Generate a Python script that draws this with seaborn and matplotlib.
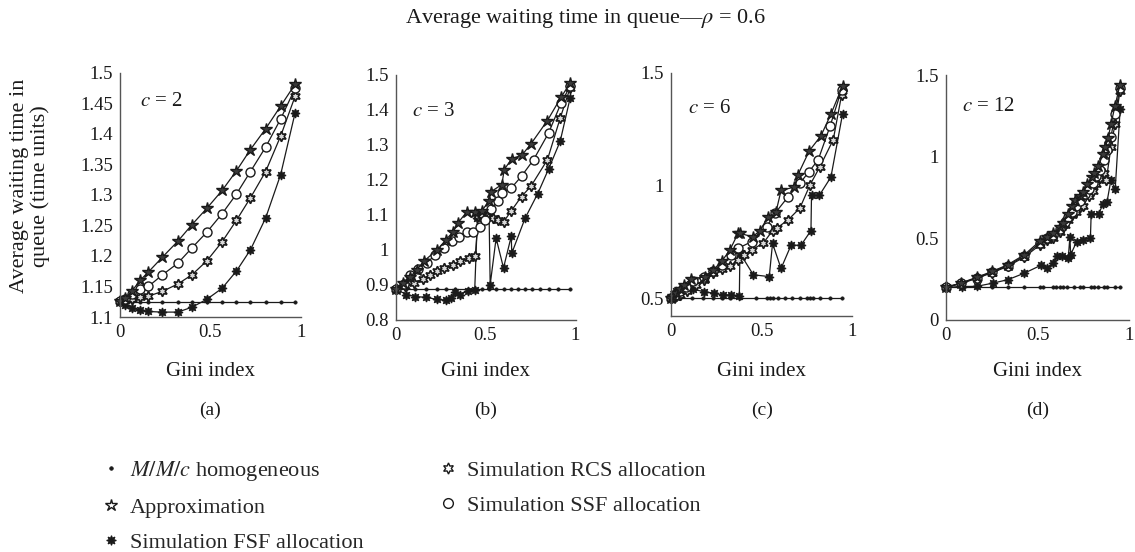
import matplotlib
matplotlib.use("Agg")
import matplotlib.pyplot as plt
from matplotlib.lines import Line2D
import seaborn as sns

# ---------------- data ----------------
# (a) c = 2
ga = [0, 0.028, 0.065, 0.111, 0.157, 0.235, 0.32, 0.398, 0.481, 0.565, 0.644, 0.722, 0.806, 0.889, 0.969]
homog_a = [1.125, 1.125, 1.125, 1.125, 1.125, 1.125, 1.125, 1.125, 1.125, 1.125, 1.125, 1.125, 1.125, 1.125, 1.125]
approx_a = [1.1256, 1.131, 1.142, 1.160, 1.1736, 1.198, 1.224, 1.251, 1.278, 1.307, 1.339, 1.374, 1.408, 1.445, 1.481]
ssf_a = [1.1256, 1.129, 1.137, 1.145, 1.150, 1.169, 1.188, 1.213, 1.239, 1.269, 1.301, 1.338, 1.378, 1.424, 1.474]
rcs_a = [1.1256, 1.127, 1.129, 1.132, 1.134, 1.142, 1.154, 1.169, 1.192, 1.223, 1.258, 1.295, 1.338, 1.396, 1.461]
fsf_a = [1.1256, 1.119, 1.115, 1.111, 1.109, 1.108, 1.108, 1.116, 1.129, 1.147, 1.175, 1.210, 1.262, 1.333, 1.434]

# (b) c = 3
homog_b_g = [0, 0.06, 0.11, 0.17, 0.23, 0.28, 0.33, 0.40, 0.44, 0.48, 0.52, 0.56, 0.60, 0.64, 0.68, 0.72, 0.76, 0.80, 0.85, 0.90, 0.97]
homog_b = [0.888, 0.888, 0.888, 0.888, 0.888, 0.888, 0.888, 0.888, 0.888, 0.888, 0.888, 0.888, 0.888, 0.888, 0.888, 0.888, 0.888, 0.888, 0.888, 0.888, 0.888]
approx_b_g = [0, 0.04, 0.081, 0.119, 0.161, 0.233, 0.281, 0.322, 0.346, 0.396, 0.443, 0.480, 0.517, 0.528, 0.591, 0.604, 0.646, 0.702, 0.752, 0.844, 0.919, 0.970]
approx_b = [0.888, 0.905, 0.922, 0.943, 0.969, 1.000, 1.029, 1.052, 1.076, 1.108, 1.108, 1.111, 1.138, 1.165, 1.186, 1.229, 1.260, 1.270, 1.302, 1.369, 1.435, 1.476]
ssf_b_g = [0, 0.045, 0.081, 0.125, 0.174, 0.22, 0.27, 0.313, 0.35, 0.396, 0.433, 0.47, 0.498, 0.53, 0.57, 0.59, 0.643, 0.70, 0.767, 0.85, 0.92, 0.97]
ssf_b = [0.888, 0.903, 0.927, 0.945, 0.962, 0.985, 1.005, 1.024, 1.035, 1.052, 1.052, 1.065, 1.086, 1.115, 1.14, 1.162, 1.176, 1.21, 1.257, 1.333, 1.419, 1.467]
rcs_b_g = [0, 0.055, 0.10, 0.15, 0.19, 0.23, 0.27, 0.322, 0.359, 0.406, 0.443, 0.46, 0.48, 0.51, 0.54, 0.57, 0.60, 0.643, 0.70, 0.752, 0.844, 0.915, 0.97]
rcs_b = [0.888, 0.895, 0.905, 0.915, 0.928, 0.938, 0.948, 0.957, 0.969, 0.976, 0.981, 1.095, 1.10, 1.095, 1.09, 1.085, 1.079, 1.111, 1.152, 1.181, 1.257, 1.376, 1.462]
fsf_b_g = [0, 0.06, 0.11, 0.17, 0.23, 0.28, 0.31, 0.33, 0.36, 0.40, 0.44, 0.455, 0.48, 0.52, 0.526, 0.559, 0.60, 0.643, 0.646, 0.72, 0.79, 0.85, 0.915, 0.97]
fsf_b = [0.888, 0.872, 0.866, 0.864, 0.858, 0.856, 0.862, 0.878, 0.872, 0.882, 0.884, 1.09, 1.10, 1.095, 0.90, 1.033, 0.948, 1.038, 0.99, 1.09, 1.16, 1.23, 1.31, 1.433]

# (c) c = 6
homog_c_g = [0, 0.05, 0.114, 0.178, 0.233, 0.279, 0.325, 0.38, 0.47, 0.528, 0.546, 0.564, 0.592, 0.629, 0.665, 0.711, 0.748, 0.767, 0.785, 0.822, 0.877, 0.941]
homog_c = [0.5, 0.5, 0.5, 0.5, 0.5, 0.5, 0.5, 0.5, 0.5, 0.5, 0.5, 0.5, 0.5, 0.5, 0.5, 0.5, 0.5, 0.5, 0.5, 0.5, 0.5, 0.5]
approx_c_g = [0, 0.01, 0.03, 0.05, 0.07, 0.11, 0.188, 0.233, 0.279, 0.325, 0.371, 0.381, 0.45, 0.49, 0.537, 0.579, 0.607, 0.68, 0.70, 0.763, 0.827, 0.882, 0.946]
approx_c = [0.5, 0.51, 0.525, 0.54, 0.56, 0.585, 0.596, 0.626, 0.663, 0.714, 0.79, 0.788, 0.772, 0.80, 0.862, 0.882, 0.978, 0.993, 1.047, 1.154, 1.22, 1.316, 1.441]
ssf_c_g = [0, 0.02, 0.05, 0.08, 0.12, 0.18, 0.23, 0.279, 0.33, 0.371, 0.445, 0.528, 0.574, 0.647, 0.711, 0.76, 0.812, 0.877, 0.941]
ssf_c = [0.5, 0.515, 0.53, 0.55, 0.575, 0.595, 0.62, 0.648, 0.69, 0.722, 0.751, 0.818, 0.877, 0.951, 1.01, 1.06, 1.114, 1.262, 1.425]
rcs_c_g = [0, 0.02, 0.05, 0.09, 0.14, 0.18, 0.233, 0.28, 0.325, 0.371, 0.40, 0.445, 0.509, 0.56, 0.583, 0.647, 0.711, 0.767, 0.822, 0.895, 0.941]
rcs_c = [0.5, 0.505, 0.515, 0.53, 0.56, 0.58, 0.611, 0.63, 0.641, 0.670, 0.69, 0.715, 0.744, 0.80, 0.811, 0.848, 0.90, 1.003, 1.084, 1.203, 1.402]
fsf_c_g = [0, 0.03, 0.07, 0.12, 0.184, 0.239, 0.285, 0.33, 0.377, 0.38, 0.454, 0.542, 0.56, 0.607, 0.662, 0.717, 0.772, 0.775, 0.818, 0.882, 0.946]
fsf_c = [0.5, 0.53, 0.545, 0.54, 0.529, 0.522, 0.515, 0.515, 0.51, 0.70, 0.604, 0.596, 0.743, 0.632, 0.735, 0.735, 0.80, 0.956, 0.956, 1.037, 1.316]

# (d) c = 12
homog_d_g = [0, 0.082, 0.167, 0.253, 0.336, 0.427, 0.513, 0.53, 0.585, 0.60, 0.62, 0.64, 0.66, 0.70, 0.73, 0.75, 0.79, 0.81, 0.83, 0.86, 0.88, 0.92, 0.95]
homog_d = [0.2, 0.2, 0.2, 0.2, 0.2, 0.2, 0.2, 0.2, 0.2, 0.2, 0.2, 0.2, 0.2, 0.2, 0.2, 0.2, 0.2, 0.2, 0.2, 0.2, 0.2, 0.2, 0.2]
approx_d_g = [0, 0.082, 0.167, 0.253, 0.336, 0.427, 0.513, 0.55, 0.585, 0.62, 0.64, 0.667, 0.69, 0.704, 0.73, 0.749, 0.77, 0.795, 0.81, 0.831, 0.858, 0.87, 0.885, 0.90, 0.922, 0.949]
approx_d = [0.2, 0.227, 0.261, 0.298, 0.338, 0.399, 0.484, 0.51, 0.53, 0.57, 0.591, 0.652, 0.70, 0.733, 0.76, 0.783, 0.83, 0.874, 0.90, 0.945, 1.016, 1.06, 1.117, 1.20, 1.31, 1.441]
ssf_d_g = [0, 0.082, 0.167, 0.253, 0.336, 0.427, 0.513, 0.55, 0.585, 0.62, 0.65, 0.667, 0.69, 0.71, 0.73, 0.76, 0.78, 0.80, 0.82, 0.84, 0.86, 0.88, 0.90, 0.922, 0.949]
ssf_d = [0.2, 0.225, 0.258, 0.294, 0.333, 0.392, 0.472, 0.50, 0.52, 0.555, 0.60, 0.63, 0.66, 0.70, 0.73, 0.77, 0.80, 0.84, 0.88, 0.92, 0.98, 1.04, 1.12, 1.26, 1.42]
rcs_d_g = [0, 0.082, 0.167, 0.253, 0.336, 0.427, 0.513, 0.55, 0.585, 0.62, 0.65, 0.667, 0.69, 0.71, 0.73, 0.75, 0.78, 0.80, 0.82, 0.84, 0.86, 0.875, 0.90, 0.922, 0.949]
rcs_d = [0.2, 0.223, 0.255, 0.29, 0.328, 0.385, 0.46, 0.49, 0.505, 0.54, 0.58, 0.61, 0.64, 0.66, 0.69, 0.70, 0.76, 0.79, 0.83, 0.87, 0.90, 0.86, 1.06, 1.20, 1.40]
fsf_d_g = [0, 0.086, 0.167, 0.257, 0.338, 0.428, 0.518, 0.549, 0.585, 0.608, 0.631, 0.667, 0.676, 0.68, 0.713, 0.749, 0.788, 0.792, 0.833, 0.858, 0.878, 0.90, 0.923, 0.95]
fsf_d = [0.2, 0.205, 0.206, 0.226, 0.247, 0.287, 0.335, 0.318, 0.348, 0.39, 0.389, 0.379, 0.51, 0.40, 0.48, 0.49, 0.505, 0.652, 0.65, 0.713, 0.72, 0.86, 0.80, 1.29]

panel_names = ["(a)", "(b)", "(c)", "(d)"]
server_counts = ["2", "3", "6", "12"]
legend_labels = ["$M/M/c$ homogeneous", "Approximation", "Simulation FSF allocation",
                 "Simulation RCS allocation", "Simulation SSF allocation"]
x_ticks = [0, 0.5, 1]
y_ticks_a = [1.1, 1.15, 1.2, 1.25, 1.3, 1.35, 1.4, 1.45, 1.5]
y_ticks_b = [0.8, 0.9, 1.0, 1.1, 1.2, 1.3, 1.4, 1.5]
y_ticks_c = [0.5, 1.0, 1.5]
y_ticks_d = [0, 0.5, 1.0, 1.5]

# ---------------- style ----------------
sns.set_theme(style="white")
plt.rcParams["font.family"] = ["Liberation Serif", "DejaVu Serif"]
plt.rcParams["mathtext.fontset"] = "stix"

INK = "#1a1a1a"
# markers drawn on the curves
curve_markers = {
    "homog": dict(marker="o", markersize=2.4, markerfacecolor=INK, markeredgecolor=INK, markeredgewidth=0.5),
    "approx": dict(marker="*", markersize=9, markerfacecolor="#3a3a3a", markeredgecolor=INK, markeredgewidth=1.0),
    "fsf": dict(marker=(8, 1, 0), markersize=6.5, markerfacecolor=INK, markeredgecolor=INK, markeredgewidth=0.9),
    "rcs": dict(marker=(6, 1, 0), markersize=7.5, markerfacecolor="#d8d8d8", markeredgecolor=INK, markeredgewidth=1.2),
    "ssf": dict(marker="o", markersize=6.5, markerfacecolor="white", markeredgecolor=INK, markeredgewidth=1.0),
}
# lighter, open symbols for the key
key_markers = {
    "homog": dict(marker="o", markersize=2.6, markerfacecolor=INK, markeredgecolor=INK, markeredgewidth=0.5),
    "approx": dict(marker="*", markersize=9, markerfacecolor="white", markeredgecolor=INK, markeredgewidth=1.0),
    "fsf": dict(marker=(8, 1, 0), markersize=7, markerfacecolor=INK, markeredgecolor=INK, markeredgewidth=0.8),
    "rcs": dict(marker=(6, 1, 0), markersize=8, markerfacecolor="white", markeredgecolor=INK, markeredgewidth=1.0),
    "ssf": dict(marker="o", markersize=7, markerfacecolor="white", markeredgecolor=INK, markeredgewidth=1.0),
}

fig = plt.figure(figsize=(11.35, 5.52), dpi=100)
W, H = 1135.0, 552.0

def axes_at(left, right, top, bottom):
    return fig.add_axes([left / W, 1 - bottom / H, (right - left) / W, (bottom - top) / H])

panels = [
    dict(box=(120, 300.7, 72.5, 317), ylim=(1.1, 1.5), yticks=y_ticks_a,
         series=[("homog", ga, homog_a), ("fsf", ga, fsf_a), ("rcs", ga, rcs_a),
                 ("ssf", ga, ssf_a), ("approx", ga, approx_a)], ctext=(0.11, 0.88)),
    dict(box=(395.5, 575.5, 74.7, 319.7), ylim=(0.8, 1.5), yticks=y_ticks_b,
         series=[("homog", homog_b_g, homog_b), ("fsf", fsf_b_g, fsf_b), ("rcs", rcs_b_g, rcs_b),
                 ("ssf", ssf_b_g, ssf_b), ("approx", approx_b_g, approx_b)], ctext=(0.09, 0.85)),
    dict(box=(671, 852.3, 72.7, 316.3), ylim=(0.42, 1.5), yticks=y_ticks_c,
         series=[("homog", homog_c_g, homog_c), ("fsf", fsf_c_g, fsf_c), ("rcs", rcs_c_g, rcs_c),
                 ("ssf", ssf_c_g, ssf_c), ("approx", approx_c_g, approx_c)], ctext=(0.095, 0.855)),
    dict(box=(946, 1129.3, 75, 320), ylim=(0, 1.5), yticks=y_ticks_d,
         series=[("homog", homog_d_g, homog_d), ("fsf", fsf_d_g, fsf_d), ("rcs", rcs_d_g, rcs_d),
                 ("ssf", ssf_d_g, ssf_d), ("approx", approx_d_g, approx_d)], ctext=(0.09, 0.87)),
]

def fmt(v):
    return f"{v:g}"

for p, name, c in zip(panels, panel_names, server_counts):
    ax = axes_at(*p["box"])
    left, right, top, bottom = p["box"]
    hgt = bottom - top
    for key, xs, ys in p["series"]:
        sns.lineplot(x=xs, y=ys, ax=ax, sort=False, estimator=None, color=INK,
                     linewidth=0.9, clip_on=False, legend=False, **curve_markers[key])
    ax.set_xlim(0, 1)
    ax.set_ylim(*p["ylim"])
    ax.set_xticks(x_ticks, [fmt(v) for v in x_ticks])
    ax.set_yticks(p["yticks"], [fmt(v) for v in p["yticks"]])
    for side in ("top", "right"):
        ax.spines[side].set_visible(False)
    for side in ("left", "bottom"):
        ax.spines[side].set_color("#555555")
        ax.spines[side].set_linewidth(1.0)
    ax.tick_params(direction="in", length=3, width=0.8, color="#555555",
                   labelsize=13.5, labelcolor=INK, pad=5)
    ax.set_xlabel("Gini index", fontsize=15, color=INK)
    ax.xaxis.set_label_coords(0.5, -(371 - bottom) / hgt)
    ax.xaxis.label.set_verticalalignment("center")
    ax.set_ylabel("")
    ax.text(p["ctext"][0], p["ctext"][1], f"$c$ = {c}", transform=ax.transAxes,
            fontsize=15, color=INK, ha="left", va="center")
    ax.text(0.5, -(410 - bottom) / hgt, name, transform=ax.transAxes, fontsize=14,
            color=INK, ha="center", va="center")
    ax.set_facecolor("white")

fig.text(585 / W, 1 - 18 / H, r"Average waiting time in queue—$\rho$ = 0.6",
         ha="center", va="center", fontsize=16, color=INK)
fig.text(30 / W, 1 - 186 / H, "Average waiting time in\nqueue (time units)",
         rotation=90, ha="center", va="center", fontsize=16, color=INK,
         multialignment="center", linespacing=1.1)

handles = [Line2D([], [], linestyle="none", **key_markers[k])
           for k in ("homog", "approx", "fsf", "rcs", "ssf")]
fig.legend(handles, legend_labels, loc="upper left", bbox_to_anchor=(100 / W, 1 - 459 / H),
           ncol=2, frameon=False, fontsize=16, handletextpad=0.35, columnspacing=3.3,
           labelspacing=0.64, handlelength=1.0, borderaxespad=0, borderpad=0)

fig.savefig("out.png", dpi=100, facecolor="white")
